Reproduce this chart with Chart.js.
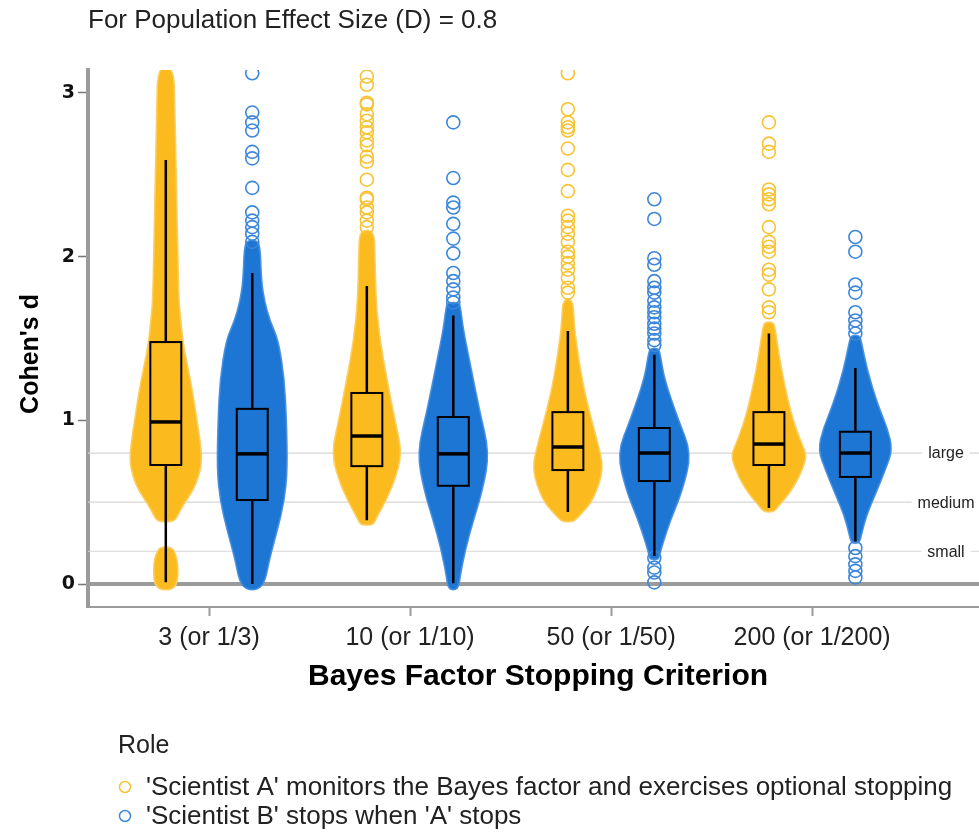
<!DOCTYPE html>
<html>
<head>
<meta charset="utf-8">
<script src="https://cdn.jsdelivr.net/npm/chart.js@4.4.1/dist/chart.umd.min.js"></script>
<style>
  html, body { margin: 0; padding: 0; background: #ffffff; overflow: hidden; }
  canvas { display: block; }
</style>
</head>
<body>
<canvas id="chart" width="979" height="834"></canvas>
<script>
// Bayes factor stopping criteria on the x axis
const criteria = ['3 (or 1/3)', '10 (or 1/10)', '50 (or 1/50)', '200 (or 1/200)'];
const roleLabels = [
  "'Scientist A' monitors the Bayes factor and exercises optional stopping",
  "'Scientist B' stops when 'A' stops"
];
const yTickValues = [0, 1, 2, 3];
const benchmarkValues = [0.8, 0.5, 0.2];
const benchmarkNames = ['large', 'medium', 'small'];

// Five-number summaries: [lower whisker, Q1, median, Q3, upper whisker]
const boxScientistA = [
  [0.01, 0.727, 0.99, 1.478, 2.59],
  [0.39, 0.72, 0.904, 1.167, 1.82],
  [0.44, 0.696, 0.837, 1.05, 1.545],
  [0.465, 0.727, 0.855, 1.05, 1.53]
];
const boxScientistB = [
  [0.0, 0.513, 0.795, 1.07, 1.90],
  [0.005, 0.60, 0.795, 1.02, 1.64],
  [0.171, 0.629, 0.80, 0.953, 1.40],
  [0.26, 0.654, 0.80, 0.93, 1.32]
];

// Outline of the dense part of each swarm: [Cohen's d, half-width in category units]
const swarmScientistA = [
  [
    [[0.38, 0.04], [0.42, 0.06], [0.48, 0.085], [0.57, 0.135], [0.66, 0.165], [0.76, 0.18], [0.88, 0.17],
     [1.0, 0.155], [1.12, 0.14], [1.23, 0.125], [1.35, 0.105], [1.48, 0.085], [1.6, 0.075], [1.73, 0.065],
     [2.0, 0.06], [2.3, 0.055], [2.6, 0.05], [2.9, 0.045], [3.16, 0.04]],
    [[-0.035, 0.03], [0.0, 0.055], [0.05, 0.06], [0.12, 0.06], [0.18, 0.05], [0.225, 0.03]]
  ],
  [
    [[0.36, 0.025], [0.38, 0.04], [0.42, 0.055], [0.51, 0.095], [0.635, 0.14], [0.80, 0.175], [1.0, 0.14],
     [1.25, 0.10], [1.49, 0.065], [1.735, 0.045], [2.04, 0.04], [2.16, 0.035]]
  ],
  [
    [[0.38, 0.025], [0.40, 0.045], [0.44, 0.075], [0.51, 0.125], [0.70, 0.18], [0.88, 0.145], [1.06, 0.105],
     [1.25, 0.07], [1.49, 0.04], [1.61, 0.03], [1.74, 0.025]]
  ],
  [
    [[0.44, 0.025], [0.48, 0.05], [0.55, 0.10], [0.65, 0.15], [0.78, 0.19], [0.85, 0.165], [1.0, 0.12],
     [1.2, 0.08], [1.4, 0.05], [1.57, 0.03], [1.6, 0.02]]
  ]
];
const swarmScientistB = [
  [
    [[-0.035, 0.03], [0.02, 0.065], [0.15, 0.085], [0.33, 0.125], [0.51, 0.16], [0.70, 0.175], [1.0, 0.17],
     [1.25, 0.16], [1.49, 0.13], [1.6, 0.09], [1.73, 0.06], [1.86, 0.045], [2.05, 0.04], [2.1, 0.025]]
  ],
  [
    [[-0.035, 0.025], [0.055, 0.035], [0.21, 0.06], [0.39, 0.10], [0.57, 0.145], [0.80, 0.18], [1.06, 0.13],
     [1.31, 0.09], [1.55, 0.05], [1.70, 0.035], [1.72, 0.025]]
  ],
  [
    [[0.15, 0.02], [0.17, 0.025], [0.24, 0.04], [0.39, 0.08], [0.57, 0.14], [0.80, 0.185], [1.0, 0.12],
     [1.25, 0.05], [1.40, 0.03], [1.44, 0.02]]
  ],
  [
    [[0.25, 0.02], [0.3, 0.03], [0.42, 0.055], [0.55, 0.10], [0.7, 0.15], [0.82, 0.185], [0.95, 0.16],
     [1.1, 0.11], [1.3, 0.06], [1.48, 0.03], [1.52, 0.02]]
  ]
];

// Individual studies outside the dense part of each swarm (Cohen's d)
const sparseScientistA = [
  [],
  [3.10, 3.05, 2.94, 2.93, 2.87, 2.83, 2.79, 2.76, 2.71, 2.68, 2.61, 2.58, 2.47, 2.36, 2.35, 2.30, 2.27, 2.22, 2.18],
  [3.12, 2.90, 2.82, 2.79, 2.77, 2.66, 2.53, 2.40, 2.25, 2.22, 2.18, 2.14, 2.09, 2.03, 2.00, 1.96, 1.92, 1.87, 1.81, 1.78],
  [2.82, 2.69, 2.64, 2.41, 2.38, 2.35, 2.32, 2.18, 2.09, 2.06, 2.03, 1.92, 1.89, 1.80, 1.69, 1.66]
];
const sparseScientistB = [
  [3.12, 2.88, 2.82, 2.77, 2.64, 2.60, 2.42, 2.27, 2.22, 2.18, 2.14, 2.09],
  [2.82, 2.48, 2.33, 2.30, 2.20, 2.11, 2.02, 1.90, 1.85, 1.80, 1.75, 1.72],
  [2.35, 2.23, 1.99, 1.95, 1.85, 1.81, 1.78, 1.73, 1.69, 1.66, 1.63, 1.59, 1.56, 1.53, 1.49, 1.46,
   0.16, 0.10, 0.07, 0.01],
  [2.12, 2.03, 1.83, 1.78, 1.66, 1.61, 1.57, 1.53, 0.22, 0.17, 0.12, 0.08, 0.04]
];

// ---- styling ----
const ROLE_OFFSET = 0.215;   // horizontal shift of each role inside a criterion
const BOX_HALF = 0.077;      // half-width of the box plots
const FONT = '"Liberation Sans", Arial, Helvetica, sans-serif';
const TICK_FONT = '"DejaVu Sans", Verdana, sans-serif';
const STYLE_A = { fill: '#FBBA1E', edge: 'rgba(252,206,96,0.95)', ring: '#F8C232' };
const STYLE_B = { fill: '#1D75D4', edge: 'rgba(70,142,222,0.95)', ring: '#3C87DA' };
const AXIS_GREY = '#9b9b9b';

function sparsePoints(lists, offset) {
  const pts = [];
  lists.forEach((vals, i) => vals.forEach(v => pts.push({ x: i + 1 + offset, y: v })));
  return pts;
}

function swarmPath(ctx, xs, ys, cx, seg) {
  const pts = [];
  seg.forEach(([d, w]) => pts.push([xs.getPixelForValue(cx + w), ys.getPixelForValue(d)]));
  for (let i = seg.length - 1; i >= 0; i--) {
    const [d, w] = seg[i];
    pts.push([xs.getPixelForValue(cx - w), ys.getPixelForValue(d)]);
  }
  // smooth closed outline through the midpoints
  ctx.beginPath();
  const n = pts.length;
  const mid = (p, q) => [(p[0] + q[0]) / 2, (p[1] + q[1]) / 2];
  const m = mid(pts[n - 1], pts[0]);
  ctx.moveTo(m[0], m[1]);
  for (let i = 0; i < n; i++) {
    const p = pts[i], q = pts[(i + 1) % n];
    const mm = mid(p, q);
    ctx.quadraticCurveTo(p[0], p[1], mm[0], mm[1]);
  }
  ctx.closePath();
}

function zeroPadding(s) {
  s.paddingLeft = 0; s.paddingRight = 0; s.paddingTop = 0; s.paddingBottom = 0;
}

const swarmPlugin = {
  id: 'swarmPlot',
  beforeDatasetsDraw(chart) {
    const { ctx, chartArea: a, scales: { x, y } } = chart;
    ctx.save();
    // effect-size benchmark lines
    ctx.strokeStyle = '#d6d6d6';
    ctx.lineWidth = 1.2;
    benchmarkValues.forEach(v => {
      const py = y.getPixelForValue(v);
      ctx.beginPath(); ctx.moveTo(a.left, py); ctx.lineTo(a.right, py); ctx.stroke();
    });
    // zero line
    ctx.strokeStyle = AXIS_GREY;
    ctx.lineWidth = 4;
    const p0 = y.getPixelForValue(0);
    ctx.beginPath(); ctx.moveTo(a.left, p0); ctx.lineTo(a.right, p0); ctx.stroke();

    ctx.beginPath();
    ctx.rect(a.left, a.top, a.right - a.left, a.bottom - a.top);
    ctx.clip();
    [[swarmScientistA, -ROLE_OFFSET, STYLE_A], [swarmScientistB, ROLE_OFFSET, STYLE_B]].forEach(([groups, off, st]) => {
      groups.forEach((segs, i) => segs.forEach(seg => {
        swarmPath(ctx, x, y, i + 1 + off, seg);
        ctx.fillStyle = st.fill;
        ctx.fill();
        ctx.strokeStyle = st.edge;
        ctx.lineWidth = 1.6;
        ctx.stroke();
      }));
    });
    ctx.restore();
  },
  afterDatasetsDraw(chart) {
    const { ctx, scales: { x, y } } = chart;
    ctx.save();
    // box plots
    [[boxScientistA, -ROLE_OFFSET], [boxScientistB, ROLE_OFFSET]].forEach(([boxes, off]) => {
      boxes.forEach(([lo, q1, med, q3, hi], i) => {
        const cx = x.getPixelForValue(i + 1 + off);
        const left = x.getPixelForValue(i + 1 + off - BOX_HALF);
        const right = x.getPixelForValue(i + 1 + off + BOX_HALF);
        const yLo = y.getPixelForValue(lo), yQ1 = y.getPixelForValue(q1), yMed = y.getPixelForValue(med);
        const yQ3 = y.getPixelForValue(q3), yHi = y.getPixelForValue(hi);
        ctx.strokeStyle = '#000';
        ctx.lineWidth = 2.5;
        ctx.beginPath();
        ctx.moveTo(cx, yHi); ctx.lineTo(cx, yQ3);
        ctx.moveTo(cx, yQ1); ctx.lineTo(cx, yLo);
        ctx.stroke();
        ctx.lineWidth = 2;
        ctx.strokeRect(left, yQ3, right - left, yQ1 - yQ3);
        ctx.lineWidth = 3.5;
        ctx.beginPath(); ctx.moveTo(left, yMed); ctx.lineTo(right, yMed); ctx.stroke();
      });
    });
    // benchmark labels
    ctx.font = '16px ' + FONT;
    ctx.textAlign = 'center';
    ctx.textBaseline = 'middle';
    const lx = 946;
    benchmarkValues.forEach((v, i) => {
      const py = y.getPixelForValue(v);
      const w = ctx.measureText(benchmarkNames[i]).width;
      ctx.fillStyle = '#fff';
      ctx.fillRect(lx - w / 2 - 6, py - 9, w + 12, 18);
      ctx.fillStyle = '#222';
      ctx.fillText(benchmarkNames[i], lx, py + 1);
    });
    ctx.restore();
  },
  afterDraw(chart) {
    const { ctx } = chart;
    ctx.save();
    ctx.fillStyle = '#222';
    ctx.textBaseline = 'middle';
    // heading
    ctx.font = '26px ' + FONT;
    ctx.textAlign = 'left';
    ctx.fillText('For Population Effect Size (D) = 0.8', 88, 21);
    // axis titles
    ctx.fillStyle = '#000';
    ctx.font = 'bold 30px ' + FONT;
    ctx.textAlign = 'center';
    ctx.fillText('Bayes Factor Stopping Criterion', 538, 677);
    ctx.save();
    ctx.translate(31, 354);
    ctx.rotate(-Math.PI / 2);
    ctx.font = 'bold 25px ' + FONT;
    ctx.fillText("Cohen's d", 0, 0);
    ctx.restore();
    // legend
    ctx.fillStyle = '#222';
    ctx.textAlign = 'left';
    ctx.font = '25px ' + FONT;
    ctx.fillText('Role', 118, 746);
    const rings = [STYLE_A.ring, STYLE_B.ring];
    ctx.font = '26px ' + FONT;
    chart.data.datasets.forEach((ds, i) => {
      const cy = 788 + i * 29;
      ctx.beginPath();
      ctx.arc(125, cy - 1, 5.5, 0, Math.PI * 2);
      ctx.strokeStyle = rings[i];
      ctx.lineWidth = 1.5;
      ctx.stroke();
      ctx.fillStyle = '#222';
      ctx.fillText(ds.label, 146, cy);
    });
    ctx.restore();
  }
};

new Chart(document.getElementById('chart'), {
  type: 'scatter',
  data: {
    datasets: [
      {
        label: roleLabels[0],
        data: sparsePoints(sparseScientistA, -ROLE_OFFSET),
        pointStyle: 'circle',
        pointRadius: 6.5,
        borderWidth: 1.6,
        borderColor: STYLE_A.ring,
        backgroundColor: 'rgba(0,0,0,0)'
      },
      {
        label: roleLabels[1],
        data: sparsePoints(sparseScientistB, ROLE_OFFSET),
        pointStyle: 'circle',
        pointRadius: 6.5,
        borderWidth: 1.6,
        borderColor: STYLE_B.ring,
        backgroundColor: 'rgba(0,0,0,0)'
      }
    ]
  },
  options: {
    responsive: false,
    animation: false,
    events: [],
    layout: { autoPadding: false, padding: { left: 0, top: 70, right: 0, bottom: 0 } },
    plugins: {
      legend: { display: false },
      title: { display: false },
      tooltip: { enabled: false }
    },
    scales: {
      x: {
        type: 'linear',
        min: 0.398,
        max: 4.83,
        afterBuildTicks: s => { s.ticks = criteria.map((c, i) => ({ value: i + 1 })); },
        afterFit: s => { s.height = 834 - 607; zeroPadding(s); },
        ticks: {
          callback: v => criteria[v - 1],
          font: { family: FONT, size: 25 },
          color: '#222',
          padding: 7,
          maxRotation: 0,
          autoSkip: false
        },
        grid: { drawOnChartArea: false, tickLength: 9, tickColor: AXIS_GREY, tickWidth: 2 },
        border: { color: AXIS_GREY, width: 2 }
      },
      y: {
        min: -0.1405,
        max: 3.14,
        afterBuildTicks: s => { s.ticks = yTickValues.map(v => ({ value: v })); },
        afterFit: s => { s.width = 88; zeroPadding(s); },
        ticks: {
          font: { family: TICK_FONT, size: 19, weight: 'bold' },
          color: '#111',
          padding: 3
        },
        grid: { drawOnChartArea: false, tickLength: 10, tickColor: '#777', tickWidth: 1.5 },
        border: { color: AXIS_GREY, width: 4 }
      }
    }
  },
  plugins: [swarmPlugin]
});
</script>
</body>
</html>
